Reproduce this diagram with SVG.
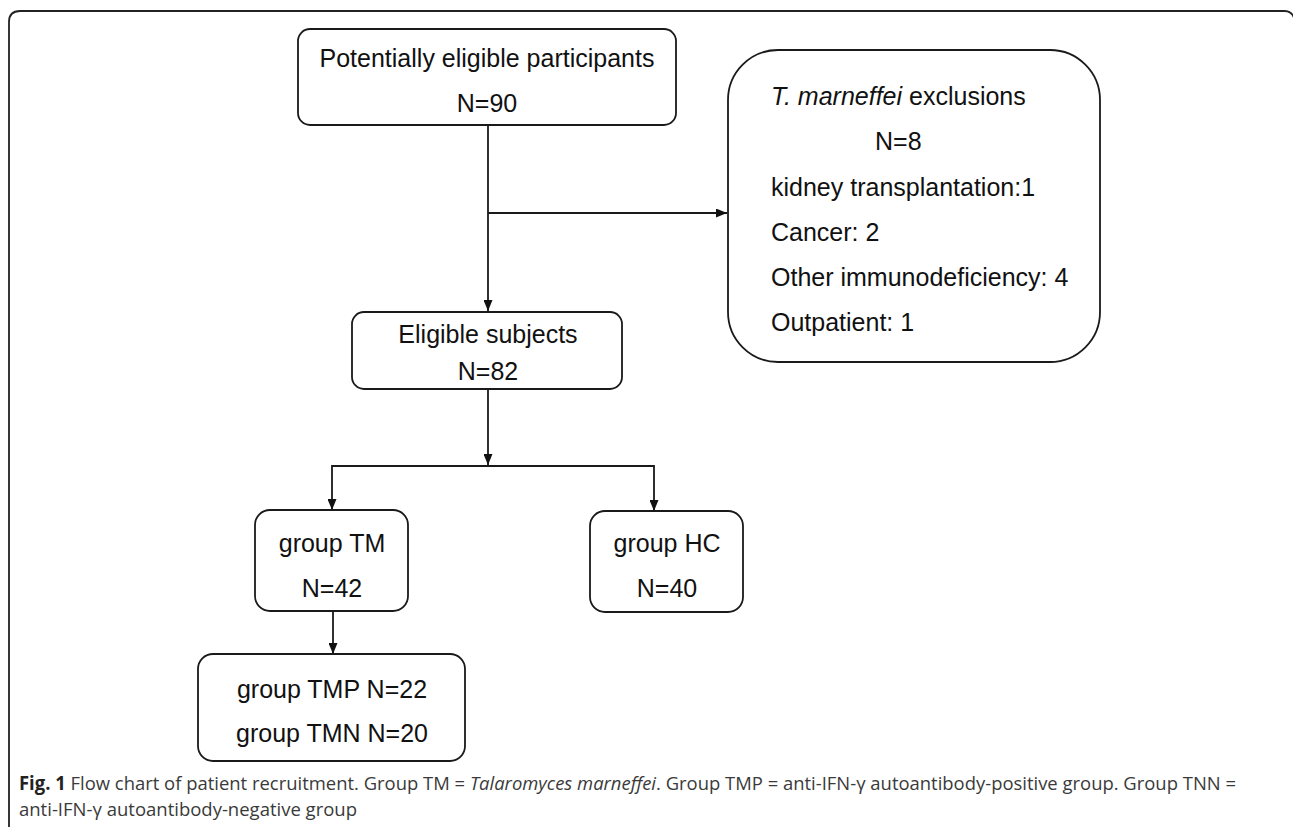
<svg xmlns="http://www.w3.org/2000/svg" width="1293" height="827" viewBox="0 0 1293 827">
<defs>
<marker id="arr" markerUnits="userSpaceOnUse" markerWidth="11" markerHeight="9" refX="11" refY="4.5" orient="auto">
<path d="M0,0 L11,4.5 L0,9 z" fill="#111"/>
</marker>
<style>
.box{fill:#fff;stroke:#1a1a1a;stroke-width:1.8}
.t{font-family:"Liberation Sans",Arial,sans-serif;font-size:25px;fill:#111}
.c{text-anchor:middle}
.ln{fill:none;stroke:#1a1a1a;stroke-width:1.8}
.cap{font-family:"Open Sans","Liberation Sans",sans-serif;font-size:19px;fill:#3a3a3a}
</style>
</defs>
<rect width="1293" height="827" fill="#fff"/>
<path d="M9,827 V22 Q9,11 20,11 H1284 Q1292,11 1294,18" fill="none" stroke="#222" stroke-width="1.8"/>

<g id="connectors">
<path class="ln" d="M488,125 V311" marker-end="url(#arr)"/>
<path class="ln" d="M488,213 H727" marker-end="url(#arr)"/>
<path class="ln" d="M488,389 V465" marker-end="url(#arr)"/>
<path class="ln" d="M488,466 H332 V510" marker-end="url(#arr)"/>
<path class="ln" d="M488,466 H654 V511" marker-end="url(#arr)"/>
<path class="ln" d="M333,611 V654" marker-end="url(#arr)"/>
</g>

<g id="potentially-eligible">
<rect class="box" x="298" y="29" width="378" height="96" rx="12"/>
<text class="t c" x="487" y="67">Potentially eligible participants</text>
<text class="t c" x="487" y="112">N=90</text>
</g>

<g id="exclusions">
<rect class="box" x="728" y="50" width="372" height="312" rx="50"/>
<text class="t" x="771" y="105"><tspan font-style="italic">T. marneffei</tspan> exclusions</text>
<text class="t" x="875" y="150">N=8</text>
<text class="t" x="771" y="196">kidney transplantation:1</text>
<text class="t" x="771" y="241">Cancer: 2</text>
<text class="t" x="771" y="286">Other immunodeficiency: 4</text>
<text class="t" x="771" y="331">Outpatient: 1</text>
</g>

<g id="eligible-subjects">
<rect class="box" x="352" y="312" width="270" height="77" rx="12"/>
<text class="t c" x="488" y="343">Eligible subjects</text>
<text class="t c" x="488" y="380">N=82</text>
</g>

<g id="group-tm">
<rect class="box" x="255" y="510" width="153" height="101" rx="15"/>
<text class="t c" x="332" y="552">group TM</text>
<text class="t c" x="332" y="597">N=42</text>
</g>

<g id="group-hc">
<rect class="box" x="590" y="511" width="153" height="101" rx="15"/>
<text class="t c" x="667" y="552">group HC</text>
<text class="t c" x="667" y="597">N=40</text>
</g>

<g id="group-tmp-tmn">
<rect class="box" x="198" y="654" width="267" height="107" rx="15"/>
<text class="t c" x="332" y="698">group TMP N=22</text>
<text class="t c" x="332" y="742">group TMN N=20</text>
</g>

<g id="caption">
<text class="cap" x="19" y="790" textLength="1217" lengthAdjust="spacingAndGlyphs"><tspan font-weight="bold" fill="#222">Fig. 1</tspan> Flow chart of patient recruitment. Group TM = <tspan font-style="italic">Talaromyces marneffei</tspan>. Group TMP = anti-IFN-γ autoantibody-positive group. Group TNN =</text>
<text class="cap" x="19" y="816" textLength="338" lengthAdjust="spacingAndGlyphs">anti-IFN-γ autoantibody-negative group</text>
</g>
</svg>
